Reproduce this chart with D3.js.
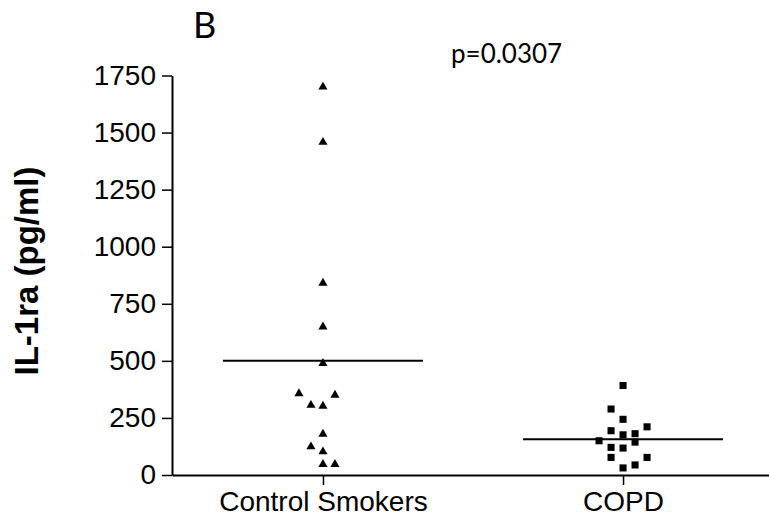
<!DOCTYPE html>
<html>
<head>
<meta charset="utf-8">
<script src="https://cdn.jsdelivr.net/npm/d3@7"></script>
<style>
  html, body { margin: 0; padding: 0; background: #fff; }
  svg { display: block; }
</style>
</head>
<body>
<svg id="chart" width="769" height="519"></svg>
<script>
// ---- data ----
const categories = ["Control Smokers", "COPD"];
const yTicks = [0, 250, 500, 750, 1000, 1250, 1500, 1750];
// Control Smokers values (pg/ml) and their horizontal slot (scatter column)
const controlValues = [1700, 1458, 841, 649, 489, 357, 350, 306, 302, 179, 124, 102, 47, 47];
const controlSlots  = [0, 0, 0, 0, 0, -2, 1, -1, 0, 0, -1, 0, 0, 1];
// COPD values (pg/ml) and their horizontal slot
const copdValues = [392, 289, 244, 211, 194, 181, 176, 150, 144, 121, 118, 77, 77, 44, 31];
const copdSlots  = [0, -1, 0, 2, -1, 1, 0, -2, 1, -1, 0, -1, 2, 1, 0];
const medians = [500, 157];
const pLabel = "p=0.0307";
const panelLabel = "B";
const yTitle = "IL-1ra (pg/ml)";

// ---- layout ----
const svg = d3.select("#chart");
const axisX = 172, axisY = 475, topY = 75.5;

const y = d3.scaleLinear().domain([0, 1750]).range([axisY, topY]);
const x = d3.scalePoint().domain(categories).range([axisX, 774]).padding(0.503);
const slot = d3.scaleLinear().domain([-1, 1]).range([-12, 12]);

const font = "'Liberation Sans', Arial, sans-serif";

// y axis
const yAxis = svg.append("g")
  .attr("transform", `translate(${axisX},0)`)
  .call(d3.axisLeft(y).tickValues(yTicks).tickFormat(d3.format("d"))
    .tickSize(10).tickPadding(6).tickSizeOuter(0));
yAxis.select(".domain").attr("stroke", "#000").attr("stroke-width", 2);
yAxis.selectAll(".tick line").attr("stroke", "#000").attr("stroke-width", 1.5);
yAxis.selectAll(".tick text").attr("font-family", font).attr("font-size", 28).attr("fill", "#000");

// x axis
const xAxis = svg.append("g")
  .attr("transform", `translate(0,${axisY})`)
  .call(d3.axisBottom(x).tickSize(10).tickPadding(6).tickSizeOuter(0));
xAxis.select(".domain").attr("stroke", "#000").attr("stroke-width", 2);
xAxis.selectAll(".tick line").attr("stroke", "#000").attr("stroke-width", 1.5);
xAxis.selectAll(".tick text").attr("font-family", font).attr("font-size", 28).attr("fill", "#000");

// median lines
svg.append("g").selectAll("line").data(categories).join("line")
  .attr("x1", d => x(d) - 100)
  .attr("x2", d => x(d) + 100)
  .attr("y1", (d, i) => y(medians[i]))
  .attr("y2", (d, i) => y(medians[i]))
  .attr("stroke", "#000").attr("stroke-width", 2);

// control triangles
const tri = d3.symbol().type(d3.symbolTriangle).size(36);
svg.append("g").selectAll("path").data(controlValues).join("path")
  .attr("d", tri)
  .attr("transform", (d, i) => `translate(${x(categories[0]) + slot(controlSlots[i])},${y(d)})`)
  .attr("fill", "#000");

// COPD squares
const sq = d3.symbol().type(d3.symbolSquare).size(50);
svg.append("g").selectAll("path").data(copdValues).join("path")
  .attr("d", sq)
  .attr("transform", (d, i) => `translate(${x(categories[1]) + slot(copdSlots[i])},${y(d)})`)
  .attr("fill", "#000");

// y title
svg.append("text")
  .attr("transform", `translate(37.5,271) rotate(-90)`)
  .attr("text-anchor", "middle")
  .attr("font-family", font).attr("font-weight", "bold").attr("font-size", 33)
  .attr("fill", "#000")
  .text(yTitle);

// panel label
svg.append("text")
  .attr("x", 193).attr("y", 38)
  .attr("font-family", "Lato, 'Open Sans', sans-serif").attr("font-size", 36)
  .attr("fill", "#000")
  .text(panelLabel);

// p value
svg.append("text")
  .attr("x", 451).attr("y", 63)
  .attr("font-family", "Lato, 'Open Sans', sans-serif").attr("font-size", 26)
  .attr("fill", "#000")
  .text(pLabel);
</script>
</body>
</html>
